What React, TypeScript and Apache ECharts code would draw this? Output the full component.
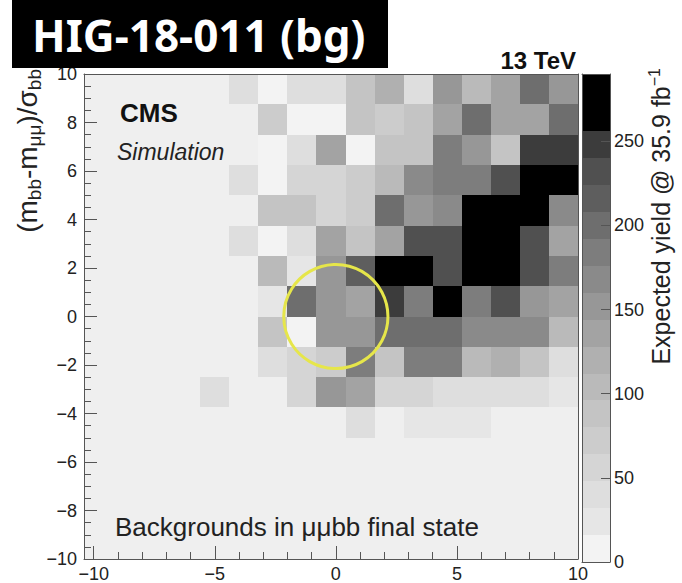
import React, { useEffect, useRef } from "react";
import * as echarts from "echarts";

// Bin edges of the 2D histogram (17 x-bins, 16 y-bins)
const xEdges = [-10.4, -9.2, -8, -6.8, -5.6, -4.4, -3.2, -2, -0.8, 0.4, 1.6, 2.8, 4, 5.2, 6.4, 7.6, 8.8, 10];
const yEdges = [10, 8.75, 7.5, 6.25, 5, 3.75, 2.5, 1.25, 0, -1.25, -2.5, -3.75, -5, -6.25, -7.5, -8.75, -10];

// Expected background yield per bin; rows run from the top (y = 10) down, columns from the left
const yieldRows = [
  [0, 0, 0, 0, 0, 40, 6, 40, 40, 88, 120, 40, 152, 104, 136, 200, 152],
  [0, 0, 0, 0, 0, 0, 72, 6, 6, 88, 72, 88, 136, 200, 136, 136, 200],
  [0, 0, 0, 0, 0, 0, 6, 40, 136, 6, 88, 88, 184, 152, 88, 248, 248],
  [0, 0, 0, 0, 0, 40, 6, 56, 56, 72, 104, 168, 184, 184, 232, 270, 270],
  [0, 0, 0, 0, 0, 0, 88, 88, 56, 72, 200, 152, 168, 270, 270, 270, 168],
  [0, 0, 0, 0, 0, 40, 6, 40, 136, 88, 136, 232, 232, 270, 270, 232, 136],
  [0, 0, 0, 0, 0, 0, 104, 24, 152, 216, 270, 270, 232, 270, 270, 232, 184],
  [0, 0, 0, 0, 0, 0, 24, 200, 152, 136, 248, 184, 270, 184, 232, 152, 136],
  [0, 0, 0, 0, 0, 0, 88, 6, 152, 152, 200, 200, 200, 168, 168, 168, 104],
  [0, 0, 0, 0, 0, 0, 40, 56, 72, 184, 88, 184, 184, 104, 120, 88, 40],
  [0, 0, 0, 0, 40, 0, 0, 56, 152, 136, 56, 56, 40, 40, 40, 40, 24],
  [0, 0, 0, 0, 0, 0, 0, 0, 0, 40, 0, 24, 24, 24, 0, 0, 0],
  [0, 0, 0, 0, 0, 0, 0, 0, 0, 0, 0, 0, 0, 0, 0, 0, 0],
  [0, 0, 0, 0, 0, 0, 0, 0, 0, 0, 0, 0, 0, 0, 0, 0, 0],
  [0, 0, 0, 0, 0, 0, 0, 0, 0, 0, 0, 0, 0, 0, 0, 0, 0],
  [0, 0, 0, 0, 0, 0, 0, 0, 0, 0, 0, 0, 0, 0, 0, 0, 0],
];

// Discrete grey palette (contour levels of the z axis)
const levelEdges = [0, 16, 32, 48, 64, 80, 96, 112, 128, 144, 160, 176, 192, 208, 224, 240, 256, 290];
const levelColors = [
  "#f3f3f3", "#e6e6e6", "#dedede", "#d5d5d5", "#cccccc", "#c4c4c4", "#bababa", "#b0b0b0",
  "#a3a3a3", "#979797", "#8a8a8a", "#7d7d7d", "#6e6e6e", "#5e5e5e", "#505050", "#3c3c3c", "#000000",
];

const xMajorTicks = [-10, -5, 0, 5, 10];
const xMinorTicks = [-10, -9, -8, -7, -6, -5, -4, -3, -2, -1, 0, 1, 2, 3, 4, 5, 6, 7, 8, 9, 10];
const zTicks = [0, 50, 100, 150, 200, 250];

// Signal region: centre x, centre y, radius
const signalRegion = [[0, 0, 2.15]];

const HELV = '"Liberation Sans", Arial, Helvetica, sans-serif';
const AXIS = "#555";
const LABEL = "#222";
const minus = (v: number) => String(v).replace("-", "\u2212");

const lineOnly = (extra: any) => ({
  type: "value",
  z: 5,
  axisLine: { show: true, onZero: false, lineStyle: { color: AXIS, width: 1 } },
  axisTick: { show: false },
  axisLabel: { show: false },
  splitLine: { show: false },
  ...extra,
});

export default function App() {
  const ref = useRef<HTMLDivElement>(null);

  useEffect(() => {
    const chart = echarts.init(ref.current!, null, { renderer: "svg" });

    const cells: number[][] = [];
    yieldRows.forEach((row, r) =>
      row.forEach((v, c) => {
        if (v > 0) cells.push([xEdges[c], xEdges[c + 1], yEdges[r + 1], yEdges[r], v]);
      })
    );
    const levels = levelColors.map((_, i) => [levelEdges[i], levelEdges[i + 1], i]);

    const option: any = {
      animation: false,
      backgroundColor: "#ffffff",
      grid: [
        { left: 84, top: 74, width: 494, height: 488, show: true, backgroundColor: "#efefef", borderWidth: 0 },
        { left: 582, top: 74, width: 28, height: 488, show: false },
      ],
      xAxis: [
        {
          gridIndex: 0, type: "value", min: -10.4, max: 10, position: "bottom", z: 5,
          axisLine: { show: true, onZero: false, lineStyle: { color: AXIS, width: 1 } },
          axisTick: { show: true, inside: true, length: 7, customValues: xMinorTicks, lineStyle: { color: AXIS } },
          axisLabel: { show: true, customValues: xMajorTicks, formatter: minus, fontSize: 18, color: LABEL, fontFamily: HELV, margin: 6 },
          splitLine: { show: false },
        },
        {
          gridIndex: 0, type: "value", min: -10.4, max: 10, position: "bottom", z: 5,
          axisLine: { show: false, onZero: false },
          axisTick: { show: true, inside: true, length: 13, customValues: xMajorTicks, lineStyle: { color: AXIS } },
          axisLabel: { show: false },
          splitLine: { show: false },
        },
        lineOnly({ gridIndex: 0, min: -10.4, max: 10, position: "top" }),
        lineOnly({ gridIndex: 1, min: 0, max: 1, position: "bottom" }),
        lineOnly({ gridIndex: 1, min: 0, max: 1, position: "top" }),
      ],
      yAxis: [
        {
          gridIndex: 0, type: "value", min: -10, max: 10, interval: 2, position: "left", z: 5,
          axisLine: { show: true, onZero: false, lineStyle: { color: AXIS, width: 1 } },
          axisTick: { show: true, inside: true, length: 13, lineStyle: { color: AXIS } },
          minorTick: { show: true, splitNumber: 4, length: 7, lineStyle: { color: AXIS } },
          axisLabel: { formatter: minus, fontSize: 18, color: LABEL, fontFamily: HELV, margin: 7 },
          splitLine: { show: false },
          minorSplitLine: { show: false },
        },
        lineOnly({ gridIndex: 0, min: -10, max: 10, position: "right" }),
        lineOnly({ gridIndex: 1, min: 0, max: 290, position: "left" }),
        {
          gridIndex: 1, type: "value", min: 0, max: 290, position: "right", z: 5,
          axisLine: { show: true, onZero: false, lineStyle: { color: AXIS, width: 1 } },
          axisTick: { show: true, inside: true, length: 9, customValues: zTicks, lineStyle: { color: AXIS } },
          axisLabel: { show: true, customValues: zTicks, fontSize: 18, color: LABEL, fontFamily: HELV, margin: 4 },
          splitLine: { show: false },
        },
      ],
      visualMap: {
        type: "piecewise",
        show: false,
        seriesIndex: 0,
        dimension: 4,
        pieces: levelColors.map((color, i) => ({ gte: levelEdges[i], lt: levelEdges[i + 1], color })),
      },
      series: [
        {
          type: "custom",
          name: "yield",
          xAxisIndex: 0,
          yAxisIndex: 0,
          z: 2,
          encode: { x: [0, 1], y: [2, 3] },
          data: cells,
          renderItem: (_p: any, api: any) => {
            const tl = api.coord([api.value(0), api.value(3)]);
            const br = api.coord([api.value(1), api.value(2)]);
            const x0 = Math.round(tl[0]);
            const y0 = Math.round(tl[1]);
            const x1 = Math.round(br[0]);
            const y1 = Math.round(br[1]);
            return {
              type: "rect",
              shape: { x: x0, y: y0, width: x1 - x0, height: y1 - y0 },
              style: { fill: api.visual("color") },
            };
          },
        },
        {
          type: "custom",
          name: "signal region",
          xAxisIndex: 0,
          yAxisIndex: 0,
          z: 3,
          data: signalRegion,
          renderItem: (_p: any, api: any) => {
            const c = api.coord([api.value(0), api.value(1)]);
            const s = api.size([api.value(2), api.value(2)]);
            return {
              type: "circle",
              shape: { cx: c[0], cy: c[1], r: (s[0] + s[1]) / 2 },
              style: { fill: "none", stroke: "#e6e64a", lineWidth: 3 },
            };
          },
        },
        {
          type: "custom",
          name: "palette",
          xAxisIndex: 3,
          yAxisIndex: 3,
          z: 2,
          data: levels,
          renderItem: (_p: any, api: any) => {
            const top = api.coord([0, api.value(1)]);
            const bot = api.coord([1, api.value(0)]);
            const y0 = Math.round(top[1]);
            const y1 = Math.round(bot[1]);
            return {
              type: "rect",
              shape: { x: top[0], y: y0, width: bot[0] - top[0], height: y1 - y0 },
              style: { fill: levelColors[api.value(2)] },
            };
          },
        },
      ],
      graphic: [
        { type: "rect", z: 100, shape: { x: 12, y: 0, width: 376, height: 68 }, style: { fill: "#000" } },
        {
          type: "text", z: 101, x: 32, y: 35,
          style: {
            text: "HIG-18-011 (bg)", fill: "#fff", fontSize: 44, fontWeight: "bold", fontFamily: '"Noto Sans", "Open Sans", sans-serif',
            align: "left", textAlign: "left", verticalAlign: "middle", textVerticalAlign: "middle",
          },
        },
        {
          type: "text", z: 50, x: 576, y: 60,
          style: {
            text: "13 TeV", fill: "#111", fontSize: 24, fontWeight: "bold", fontFamily: HELV,
            align: "right", textAlign: "right", verticalAlign: "middle", textVerticalAlign: "middle",
          },
        },
        {
          type: "text", z: 50, x: 120, y: 113,
          style: {
            text: "CMS", fill: "#111", fontSize: 26, fontWeight: "bold", fontFamily: HELV,
            align: "left", textAlign: "left", verticalAlign: "middle", textVerticalAlign: "middle",
          },
        },
        {
          type: "text", z: 50, x: 117, y: 152,
          style: {
            text: "Simulation", fill: "#222", fontSize: 23, fontStyle: "italic", fontFamily: HELV,
            align: "left", textAlign: "left", verticalAlign: "middle", textVerticalAlign: "middle",
          },
        },
        {
          type: "text", z: 50, x: 115, y: 527,
          style: {
            text: "Backgrounds in \u03bc\u03bcbb final state", fill: "#222", fontSize: 26, fontFamily: HELV,
            align: "left", textAlign: "left", verticalAlign: "middle", textVerticalAlign: "middle",
          },
        },
        {
          type: "text", z: 50, x: 27, y: 69, rotation: Math.PI / 2,
          style: {
            text: "(m{s|bb}-m{s|\u03bc\u03bc})/\u03c3{s|bb}", fill: "#222", fontSize: 28, fontFamily: HELV,
            align: "right", textAlign: "right", verticalAlign: "middle", textVerticalAlign: "middle",
            rich: { s: { fontSize: 19, fontFamily: HELV, fill: "#222", padding: [14, 0, 0, 0] } },
          },
        },
        {
          type: "text", z: 50, x: 661, y: 68, rotation: Math.PI / 2,
          style: {
            text: "Expected yield @ 35.9 fb{p|\u22121}", fill: "#222", fontSize: 25, fontFamily: HELV,
            align: "right", textAlign: "right", verticalAlign: "middle", textVerticalAlign: "middle",
            rich: { p: { fontSize: 16, fontFamily: HELV, fill: "#222", padding: [0, 0, 14, 0] } },
          },
        },
      ],
    };

    chart.setOption(option);
    return () => chart.dispose();
  }, []);

  return (
    <div
      ref={ref}
      style={{ position: "fixed", left: 0, top: 0, width: 682, height: 583, background: "#fff" }}
    />
  );
}
